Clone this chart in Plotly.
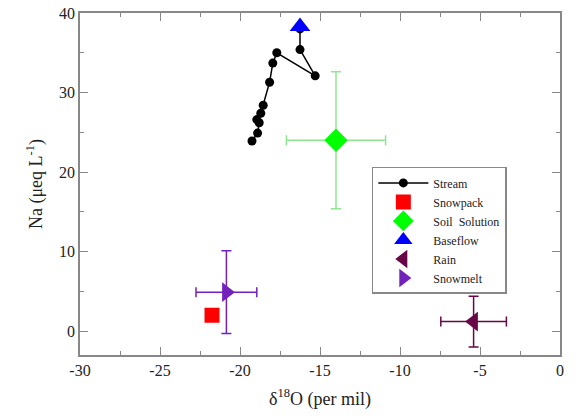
import plotly.graph_objects as go

stream_x = [-19.25, -18.9, -18.8, -18.95, -18.7, -18.55, -18.15, -17.95, -17.7, -15.3, -16.25, -16.25]
stream_y = [23.9, 24.9, 26.2, 26.6, 27.4, 28.4, 31.3, 33.7, 35.0, 32.1, 35.4, 38.0]

snowpack_x = [-21.75]
snowpack_y = [2.0]

soil_x = [-14.0]
soil_y = [24.0]
soil_xerr = [3.1]
soil_yerr = [8.6]

baseflow_x = [-16.25]
baseflow_y = [38.3]

rain_x = [-5.4]
rain_y = [1.2]
rain_xerr = [2.05]
rain_yerr = [3.2]

snowmelt_x = [-20.85]
snowmelt_y = [4.9]
snowmelt_xerr = [1.9]
snowmelt_yerr = [5.2]

FONT = "Liberation Serif"

fig = go.Figure()
fig.add_trace(go.Scatter(x=stream_x, y=stream_y, mode="lines+markers", name="Stream",
                         line=dict(color="black", width=1.5),
                         marker=dict(color="black", size=9, symbol="circle")))
fig.add_trace(go.Scatter(x=snowpack_x, y=snowpack_y, mode="markers", name="Snowpack",
                         marker=dict(color="#ff0000", size=15, symbol="square")))
fig.add_trace(go.Scatter(x=soil_x, y=soil_y, mode="markers", name="Soil  Solution",
                         marker=dict(color="#00ff00", size=18, symbol="diamond"),
                         error_x=dict(type="data", array=soil_xerr, color="#8ee68e", thickness=1.5, width=5),
                         error_y=dict(type="data", array=soil_yerr, color="#8ee68e", thickness=1.5, width=5)))
fig.add_trace(go.Scatter(x=baseflow_x, y=baseflow_y, mode="markers", name="Baseflow",
                         marker=dict(color="#0000ff", size=18, symbol="triangle-up")))
fig.add_trace(go.Scatter(x=rain_x, y=rain_y, mode="markers", name="Rain",
                         marker=dict(color="#670748", size=17, symbol="triangle-left"),
                         error_x=dict(type="data", array=rain_xerr, color="#670748", thickness=1.5, width=5),
                         error_y=dict(type="data", array=rain_yerr, color="#670748", thickness=1.5, width=5)))
fig.add_trace(go.Scatter(x=snowmelt_x, y=snowmelt_y, mode="markers", name="Snowmelt",
                         marker=dict(color="#7221bc", size=17, symbol="triangle-right"),
                         error_x=dict(type="data", array=snowmelt_xerr, color="#7221bc", thickness=1.5, width=5),
                         error_y=dict(type="data", array=snowmelt_yerr, color="#7221bc", thickness=1.5, width=5)))

axis_common = dict(showgrid=False, zeroline=False, showline=True, linecolor="#888888", linewidth=1.5,
                   mirror="ticks", ticks="inside", tickcolor="#888888", ticklen=8, tickwidth=1,
                   tickfont=dict(family=FONT, size=16, color="#222"), automargin=False,
                   minor=dict(ticks="inside", ticklen=4, tickcolor="#888888", tickwidth=1))

fig.update_xaxes(range=[-30, 0], tickmode="array", tickvals=[-30, -25, -20, -15, -10, -5, 0],
                 ticktext=["-30", "-25", "-20", "-15", "-10", "-5", "0"],
                 title=dict(text="δ<sup>18</sup>O (per mil)", font=dict(family=FONT, size=18, color="#222"), standoff=14),
                 **axis_common)
fig.update_xaxes(minor=dict(dtick=2.5, tick0=0))
fig.update_yaxes(range=[-3, 40], tickmode="array", tickvals=[0, 10, 20, 30, 40],
                 title=dict(text="Na (μeq L<sup>-1</sup>)", font=dict(family=FONT, size=18, color="#222"), standoff=12),
                 **axis_common)
fig.update_yaxes(minor=dict(dtick=5, tick0=0))

fig.update_layout(
    width=581, height=418,
    margin=dict(l=80, r=21, t=13, b=63),
    plot_bgcolor="white", paper_bgcolor="white",
    font=dict(family=FONT),
    legend=dict(x=0.608, y=0.55, xanchor="left", yanchor="top",
                bordercolor="#888888", borderwidth=1.5, bgcolor="white",
                font=dict(family=FONT, size=12, color="#222"),
                tracegroupgap=0, itemwidth=50),
)

fig.write_html("out.html", config={"displayModeBar": False},
               post_script="document.body.style.margin='0px';")
